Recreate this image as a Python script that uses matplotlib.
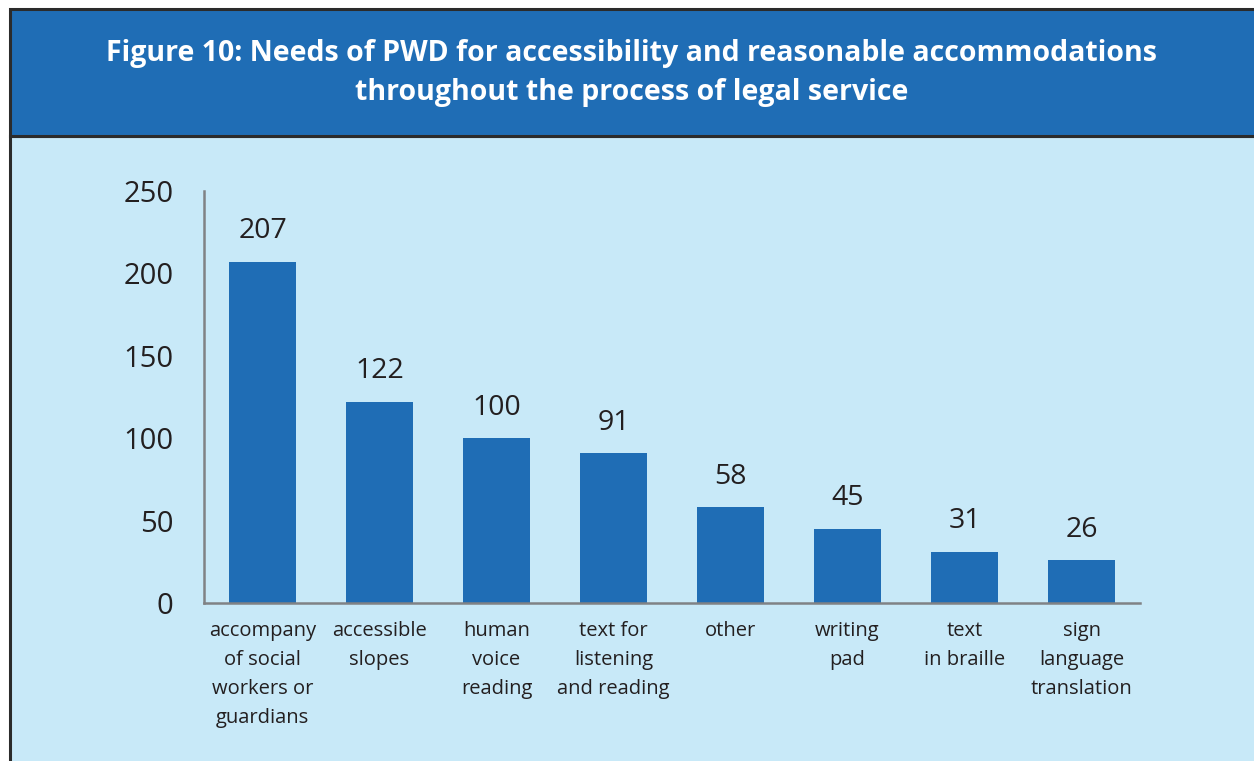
import matplotlib.pyplot as plt
from matplotlib.patches import Rectangle

# data
categories = [
    "accompany\nof social\nworkers or\nguardians",
    "accessible\nslopes",
    "human\nvoice\nreading",
    "text for\nlistening\nand reading",
    "other",
    "writing\npad",
    "text\nin braille",
    "sign\nlanguage\ntranslation",
]
counts = [207, 122, 100, 91, 58, 45, 31, 26]
yticks = [0, 50, 100, 150, 200, 250]
title = ("Figure 10: Needs of PWD for accessibility and reasonable accommodations\n"
         "throughout the process of legal service")

HEADER = "#1f6db5"
PANEL = "#c8e9f8"
BAR = "#1f6db5"
TEXT = "#231f20"
AXIS = "#808285"

plt.rcParams['font.family'] = ['Open Sans', 'DejaVu Sans']

W, H = 1254, 761
fig = plt.figure(figsize=(W / 100, H / 100), dpi=100)
fig.patch.set_facecolor("white")

# pixel -> figure fraction
def fx(px):
    return px / W

def fy(py):
    return 1 - py / H

# background frame: light panel + dark blue header
fig.patches.append(Rectangle((fx(10), fy(H + 5)), fx(W), fy(136) - fy(H + 5),
                             transform=fig.transFigure, facecolor=PANEL,
                             edgecolor="#2b2b2b", linewidth=2.2, zorder=0))
fig.patches.append(Rectangle((fx(10), fy(136)), fx(W), fy(9) - fy(136),
                             transform=fig.transFigure, facecolor=HEADER,
                             edgecolor="#2b2b2b", linewidth=2.2, zorder=1))
fig.text(fx(632), fy(73), title, ha="center", va="center", color="white",
         fontsize=20.5, fontweight="bold", linespacing=1.45)

ax = fig.add_axes([fx(204), fy(603), fx(1140) - fx(204), fy(191) - fy(603)])
ax.set_zorder(5)
ax.set_facecolor("none")
x = range(len(categories))
ax.bar(x, counts, width=0.57, color=BAR, zorder=2)
for xi, v in zip(x, counts):
    ax.text(xi, v + 10, str(v), ha="center", va="bottom", fontsize=20.5, color=TEXT)

ax.set_xlim(-0.5, len(categories) - 0.5)
ax.set_ylim(0, 250)
ax.set_yticks(yticks)
ax.set_yticklabels([str(t) for t in yticks], fontsize=21, color=TEXT)
ax.set_xticks(list(x))
ax.set_xticklabels(categories, fontsize=14.5, color=TEXT, linespacing=1.6, va="top")
ax.tick_params(axis="y", length=0, pad=22)
ax.tick_params(axis="x", length=0, pad=13)
for s in ["top", "right"]:
    ax.spines[s].set_visible(False)
for s in ["left", "bottom"]:
    ax.spines[s].set_color(AXIS)
    ax.spines[s].set_linewidth(1.8)

fig.savefig("out.png", dpi=100)
